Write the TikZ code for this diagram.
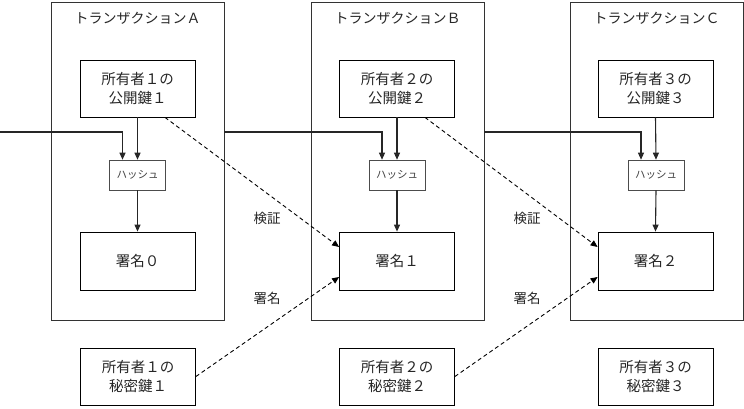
\documentclass[tikz,border=0pt]{standalone}
\usepackage{fontspec}
\setmainfont{Noto Sans CJK JP}
\usetikzlibrary{arrows.meta,calc}
\begin{document}
\begin{tikzpicture}[x=1pt,y=-1pt,
  txbox/.style={draw=black!80,line width=0.8pt,minimum width=173pt,minimum height=318pt,inner sep=0pt},
  keybox/.style={draw=black,line width=0.8pt,minimum width=115pt,minimum height=57pt,align=center,font=\fontsize{14.5}{18.5}\selectfont,text=black!85,inner sep=0pt},
  hashbox/.style={draw=black!70,line width=0.6pt,minimum width=56pt,minimum height=30pt,font=\fontsize{10.5}{12}\selectfont,text=black!75,inner sep=0pt},
  title/.style={font=\fontsize{14}{16}\selectfont,text=black!85},
  lbl/.style={font=\fontsize{13.5}{16}\selectfont,text=black!85},
  arr/.style={line width=1.1pt,draw=black!85,-{Triangle[length=7pt,width=6pt]}},
  dasharr/.style={line width=0.9pt,dashed,dash pattern=on 4pt off 3pt,-{Triangle[length=7pt,width=6pt]}}
]
\useasboundingbox (0,0) rectangle (744,408);
% transaction boxes
\node[txbox] (TA) at (137.5,161) {};
\node[txbox] (TB) at (397.5,161) {};
\node[txbox] (TC) at (656.5,161) {};
\node[title] (tA) at (137.5,18) {トランザクションＡ};
\node[title] (tB) at (397.5,18) {トランザクションＢ};
\node[title] (tC) at (656.5,18) {トランザクションＣ};
% public keys
\node[keybox] (PA) at (137.5,88.5) {所有者１の\\公開鍵１};
\node[keybox] (PB) at (397,88.5) {所有者２の\\公開鍵２};
\node[keybox] (PC) at (655.5,88.5) {所有者３の\\公開鍵３};
% hashes
\node[hashbox] (HA) at (137.5,175) {ハッシュ};
\node[hashbox] (HB) at (397,175) {ハッシュ};
\node[hashbox] (HC) at (656,175) {ハッシュ};
% signatures
\node[keybox,minimum height=58pt] (SA) at (137.5,261) {署名０};
\node[keybox,minimum height=58pt] (SB) at (397,261) {署名１};
\node[keybox,minimum height=58pt] (SC) at (655.5,261) {署名２};
% private keys
\node[keybox] (KA) at (138,376.5) {所有者１の\\秘密鍵１};
\node[keybox] (KB) at (397,376.5) {所有者２の\\秘密鍵２};
\node[keybox] (KC) at (655.5,376.5) {所有者３の\\秘密鍵３};
% labels
\node[lbl] (vB) at (267,218) {検証};
\node[lbl] (sB) at (267,298) {署名};
\node[lbl] (vC) at (527,218) {検証};
\node[lbl] (sC) at (527,298) {署名};
% input line
\coordinate (in0) at (0,132);
\draw[arr] (in0) -| ([xshift=-15pt]HA.north);
\draw[arr] (TA.east |- in0) -| ([xshift=-15pt]HB.north);
\draw[arr] (TB.east |- in0) -| ([xshift=-15pt]HC.north);
% public key to hash
\draw[arr] (PA.south) -- (HA.north);
\draw[arr] (PB.south) -- (HB.north);
\draw[arr] (PC.south) -- (HC.north);
% hash to signature
\draw[arr] (HA.south) -- (SA.north);
\draw[arr] (HB.south) -- (SB.north);
\draw[arr] (HC.south) -- (SC.north);
% verify
\draw[dasharr] ([xshift=27.5pt]PA.south) -- ([yshift=14pt]SB.west);
\draw[dasharr] ([xshift=28pt]PB.south) -- ([yshift=14pt]SC.west);
% sign
\draw[dasharr] (KA.east) -- ([yshift=-16pt]SB.west);
\draw[dasharr] (KB.east) -- ([yshift=-16pt]SC.west);
\end{tikzpicture}
\end{document}
